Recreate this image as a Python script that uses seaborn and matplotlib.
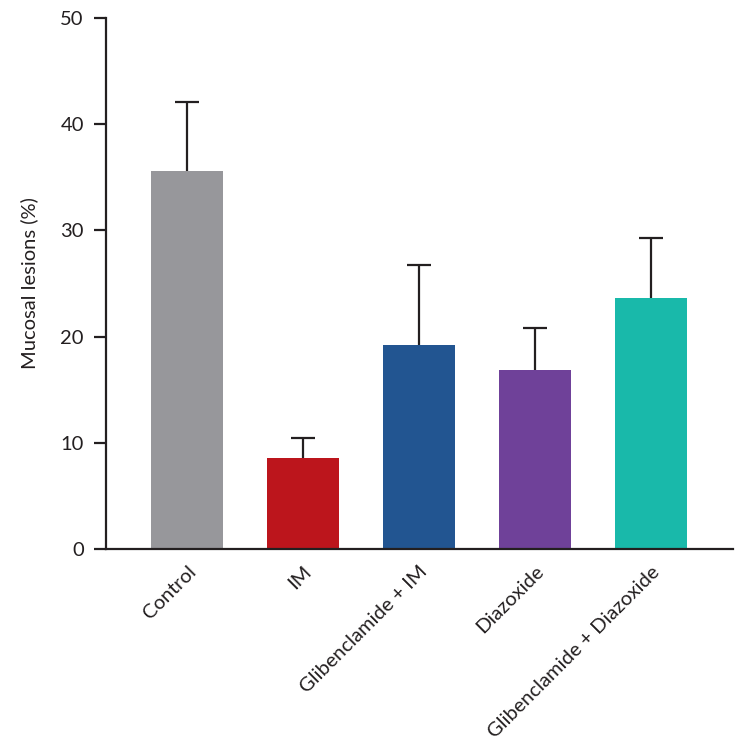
import pandas as pd
import matplotlib.pyplot as plt
import seaborn as sns

groups = ['Control', 'IM', 'Glibenclamide + IM', 'Diazoxide', 'Glibenclamide + Diazoxide']
means = [35.6, 8.6, 19.2, 16.9, 23.6]
upper = [42.1, 10.45, 26.75, 20.85, 29.3]
colors = ['#97979b', '#bc151c', '#225591', '#6f4199', '#19b9aa']

df = pd.DataFrame({'group': groups, 'mean': means})
err = [u - m for u, m in zip(upper, means)]
xpos = list(range(len(groups)))

sns.set_style('white')
plt.rcParams['font.family'] = ['Lato', 'DejaVu Sans']
ink = '#231f20'

fig = plt.figure(figsize=(7.41, 7.49), dpi=100)
ax = fig.add_axes([106 / 741, 1 - 549 / 749, (733 - 106) / 741, (549 - 18) / 749])

sns.barplot(data=df, x='group', y='mean', hue='group', palette=colors, legend=False,
            width=0.62, saturation=1, errorbar=None, ax=ax, zorder=2, linewidth=0)
# upper-only error bars: stem from bar top plus a cap at the top end
ax.errorbar(xpos, means, yerr=[[0] * len(err), err], fmt='none',
            ecolor=ink, elinewidth=1.6, capsize=0, zorder=1)
ax.plot(xpos, upper, ls='none', marker='_', markersize=17, mew=1.6, color=ink, zorder=1)

ax.set_xlim(-0.7, 4.71)
ax.set_ylim(0, 50)
ax.set_yticks([0, 10, 20, 30, 40, 50])
ax.set_xlabel('')
ax.set_ylabel('Mucosal lesions (%)', fontsize=14.5, color=ink, labelpad=16)

for s in ['top', 'right']:
    ax.spines[s].set_visible(False)
for s in ['left', 'bottom']:
    ax.spines[s].set_linewidth(1.6)
    ax.spines[s].set_color(ink)

ax.tick_params(axis='y', which='major', direction='out', length=9, width=1.6,
               color=ink, labelsize=14.5, labelcolor=ink, pad=7, left=True)
ax.tick_params(axis='x', length=0, labelsize=14.5, labelcolor=ink, pad=10)
plt.setp(ax.get_xticklabels(), rotation=45, ha='right', rotation_mode='anchor')

fig.savefig('out.png', dpi=100)
